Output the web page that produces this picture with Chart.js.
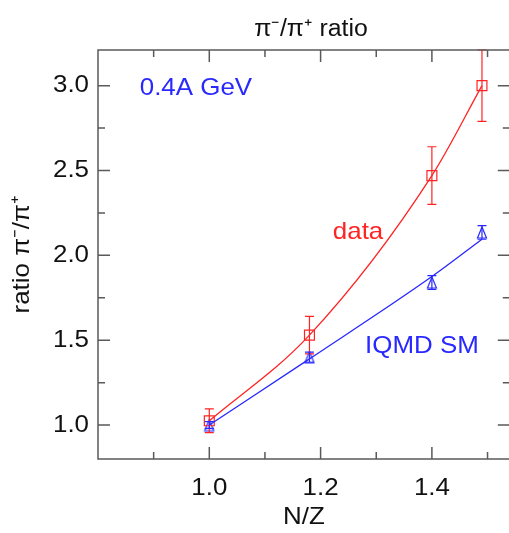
<!DOCTYPE html>
<html>
<head>
<meta charset="utf-8">
<script src="https://cdn.jsdelivr.net/npm/chart.js@4.4.1/dist/chart.umd.min.js"></script>
<style>
html,body{margin:0;padding:0;background:#ffffff;overflow:hidden}
#c{display:block;width:518px;height:533px}
</style>
</head>
<body>
<canvas id="c" width="518" height="533"></canvas>
<script>
// ---------------- data ----------------
const nzValues   = [1.0, 1.18, 1.4, 1.49];
const dataRatio  = [1.025, 1.53, 2.47, 3.0];
const dataErr    = [0.07, 0.11, 0.17, 0.21];
const iqmdRatio  = [1.0, 1.40, 1.84, 2.135];
const iqmdErr    = [0.02, 0.03, 0.04, 0.04];
const dataFit    = [1.025, 1.53, 2.47, 3.0];
const iqmdFit    = [1.0, 1.39, 1.875, 2.095];
const xTickValues = [0.9, 1.0, 1.1, 1.2, 1.3, 1.4, 1.5];
const xTickLabels = ['1.0', '1.2', '1.4'];
const yTickValues = [1.0, 1.25, 1.5, 1.75, 2.0, 2.25, 2.5, 2.75, 3.0];
const yTickLabels = ['1.0', '1.5', '2.0', '2.5', '3.0'];
const titleText = 'π⁻/π⁺ ratio';
const xTitle = 'N/Z';
const yTitle = 'ratio π⁻/π⁺';
const noteTexts = ['0.4A GeV', 'data', 'IQMD SM'];

// ---------------- styles ----------------
const RED = 'rgb(255,35,35)';
const BLUE = 'rgb(40,40,255)';
const AXIS = '#5a5a5a';
const FONT_FAMILY = '"Liberation Sans", Arial, Helvetica, sans-serif';
const noteStyle = [
  {color: BLUE, x: 0.875, y: 2.943},
  {color: RED,  x: 1.222, y: 2.099},
  {color: BLUE, x: 1.280, y: 1.427}
];

const canvas = document.getElementById('c');
const ctx0 = canvas.getContext('2d');
// slight horizontal widening of glyphs (reference text is a bit wide)
const SX = 1.08;
const origFill = ctx0.fillText.bind(ctx0);
ctx0.fillText = function (t, x, y, mw) {
  this.save();
  this.translate(x, y);
  this.scale(SX, 1);
  if (mw !== undefined && mw !== null) origFill(t, 0, 0, mw / SX); else origFill(t, 0, 0);
  this.restore();
};
const origMeasure = ctx0.measureText.bind(ctx0);
ctx0.measureText = function (t) {
  const m = origMeasure(t);
  return {
    width: m.width * SX,
    actualBoundingBoxAscent: m.actualBoundingBoxAscent,
    actualBoundingBoxDescent: m.actualBoundingBoxDescent,
    actualBoundingBoxLeft: m.actualBoundingBoxLeft * SX,
    actualBoundingBoxRight: m.actualBoundingBoxRight * SX,
    fontBoundingBoxAscent: m.fontBoundingBoxAscent,
    fontBoundingBoxDescent: m.fontBoundingBoxDescent
  };
};

function makeTriangle(color) {
  const c = document.createElement('canvas');
  c.width = 12; c.height = 13;
  const g = c.getContext('2d');
  g.strokeStyle = color; g.lineWidth = 1.2;
  g.beginPath();
  g.moveTo(6, 1); g.lineTo(1.5, 12); g.lineTo(10.5, 12); g.closePath();
  g.stroke();
  return c;
}

const fmt1 = v => (Math.round(v * 100) / 100).toFixed(1);
const isHalf = v => Math.abs(v * 2 - Math.round(v * 2)) < 1e-6;

const errorBarPlugin = {
  id: 'errorBars',
  afterDatasetsDraw(chart) {
    const {ctx, scales: {x, y}} = chart;
    chart.data.datasets.forEach(ds => {
      if (!ds.errors) return;
      ctx.save();
      ctx.strokeStyle = ds.pointBorderColor;
      ctx.lineWidth = 1.2;
      ctx.beginPath();
      ds.data.forEach((p, i) => {
        const px = x.getPixelForValue(p.x);
        const top = y.getPixelForValue(p.y + ds.errors[i]);
        const bot = y.getPixelForValue(p.y - ds.errors[i]);
        const cw = 4.5;
        ctx.moveTo(px, top); ctx.lineTo(px, bot);
        ctx.moveTo(px - cw, top); ctx.lineTo(px + cw, top);
        ctx.moveTo(px - cw, bot); ctx.lineTo(px + cw, bot);
      });
      ctx.stroke();
      ctx.restore();
    });
  }
};

const framePlugin = {
  id: 'frame',
  afterDatasetsDraw(chart) {
    const {ctx, chartArea: a, scales: {x, y}} = chart;
    ctx.save();
    ctx.strokeStyle = AXIS;
    ctx.lineWidth = 1.5;
    ctx.strokeRect(a.left, a.top, a.right - a.left, a.bottom - a.top);
    ctx.beginPath();
    xTickValues.forEach(v => {
      const px = x.getPixelForValue(v);
      const L = xTickLabels.includes(fmt1(v)) ? 12 : 7;
      ctx.moveTo(px, a.bottom); ctx.lineTo(px, a.bottom - L);
      ctx.moveTo(px, a.top); ctx.lineTo(px, a.top + L);
    });
    yTickValues.forEach(v => {
      const py = y.getPixelForValue(v);
      const L = isHalf(v) ? 12 : 7;
      ctx.moveTo(a.left, py); ctx.lineTo(a.left + L, py);
      ctx.moveTo(a.right, py); ctx.lineTo(a.right - L, py);
    });
    ctx.stroke();
    ctx.restore();
  }
};

const textPlugin = {
  id: 'texts',
  afterDraw(chart) {
    const {ctx, scales: {x, y}} = chart;
    ctx.save();
    ctx.textBaseline = 'alphabetic';
    ctx.fillStyle = '#111';
    ctx.textAlign = 'center';
    ctx.font = '23px ' + FONT_FAMILY;
    ctx.fillText(titleText, 311, 36);
    ctx.textAlign = 'left';
    ctx.font = '24px ' + FONT_FAMILY;
    noteTexts.forEach((t, i) => {
      ctx.fillStyle = noteStyle[i].color;
      ctx.fillText(t, x.getPixelForValue(noteStyle[i].x), y.getPixelForValue(noteStyle[i].y));
    });
    ctx.restore();
  }
};

new Chart(canvas, {
  type: 'scatter',
  data: {
    datasets: [
      {
        label: 'data fit',
        data: nzValues.map((v, i) => ({x: v, y: dataFit[i]})),
        showLine: true,
        borderColor: RED,
        borderWidth: 1.3,
        cubicInterpolationMode: 'monotone',
        pointRadius: 0
      },
      {
        label: 'IQMD SM fit',
        data: nzValues.map((v, i) => ({x: v, y: iqmdFit[i]})),
        showLine: true,
        borderColor: BLUE,
        borderWidth: 1.3,
        cubicInterpolationMode: 'monotone',
        pointRadius: 0
      },
      {
        label: 'data',
        data: nzValues.map((v, i) => ({x: v, y: dataRatio[i]})),
        errors: dataErr,
        showLine: false,
        pointStyle: 'rect',
        pointRadius: 7,
        pointHoverRadius: 7,
        pointBorderWidth: 1.2,
        pointBorderColor: RED,
        pointBackgroundColor: 'rgba(0,0,0,0)'
      },
      {
        label: 'IQMD SM',
        data: nzValues.map((v, i) => ({x: v, y: iqmdRatio[i]})),
        errors: iqmdErr,
        showLine: false,
        pointStyle: makeTriangle(BLUE),
        pointRadius: 6,
        pointHoverRadius: 6,
        pointBorderColor: BLUE,
        pointBackgroundColor: 'rgba(0,0,0,0)'
      }
    ]
  },
  options: {
    responsive: false,
    animation: false,
    events: [],
    layout: {padding: {top: 50, right: 2, bottom: 0, left: 0}},
    plugins: {legend: {display: false}, tooltip: {enabled: false}, title: {display: false}},
    scales: {
      x: {
        type: 'linear',
        min: 0.8,
        max: 1.54,
        grid: {display: false, drawTicks: false},
        border: {display: false},
        afterBuildTicks: s => { s.ticks = xTickValues.map(v => ({value: v})); },
        afterFit: s => { s.height = 74; },
        ticks: {
          autoSkip: false,
          maxRotation: 0,
          padding: 15,
          color: '#111',
          font: {family: FONT_FAMILY, size: 24},
          callback: v => xTickLabels.includes(fmt1(v)) ? fmt1(v) : ''
        },
        title: {display: true, text: xTitle, color: '#111', padding: {top: 0, bottom: 1},
                font: {family: FONT_FAMILY, size: 24}}
      },
      y: {
        type: 'linear',
        min: 0.8,
        max: 3.21,
        grid: {display: false, drawTicks: false},
        border: {display: false},
        afterBuildTicks: s => { s.ticks = yTickValues.map(v => ({value: v})); },
        afterFit: s => { s.width = 98; },
        ticks: {
          autoSkip: false,
          padding: 9,
          color: '#111',
          font: {family: FONT_FAMILY, size: 24},
          callback: v => (yTickLabels.includes(fmt1(v)) && isHalf(v)) ? fmt1(v) : ''
        },
        title: {display: true, text: yTitle, color: '#111', padding: {top: 8, bottom: 0},
                font: {family: FONT_FAMILY, size: 24}}
      }
    }
  },
  plugins: [errorBarPlugin, framePlugin, textPlugin]
});
</script>
</body>
</html>
